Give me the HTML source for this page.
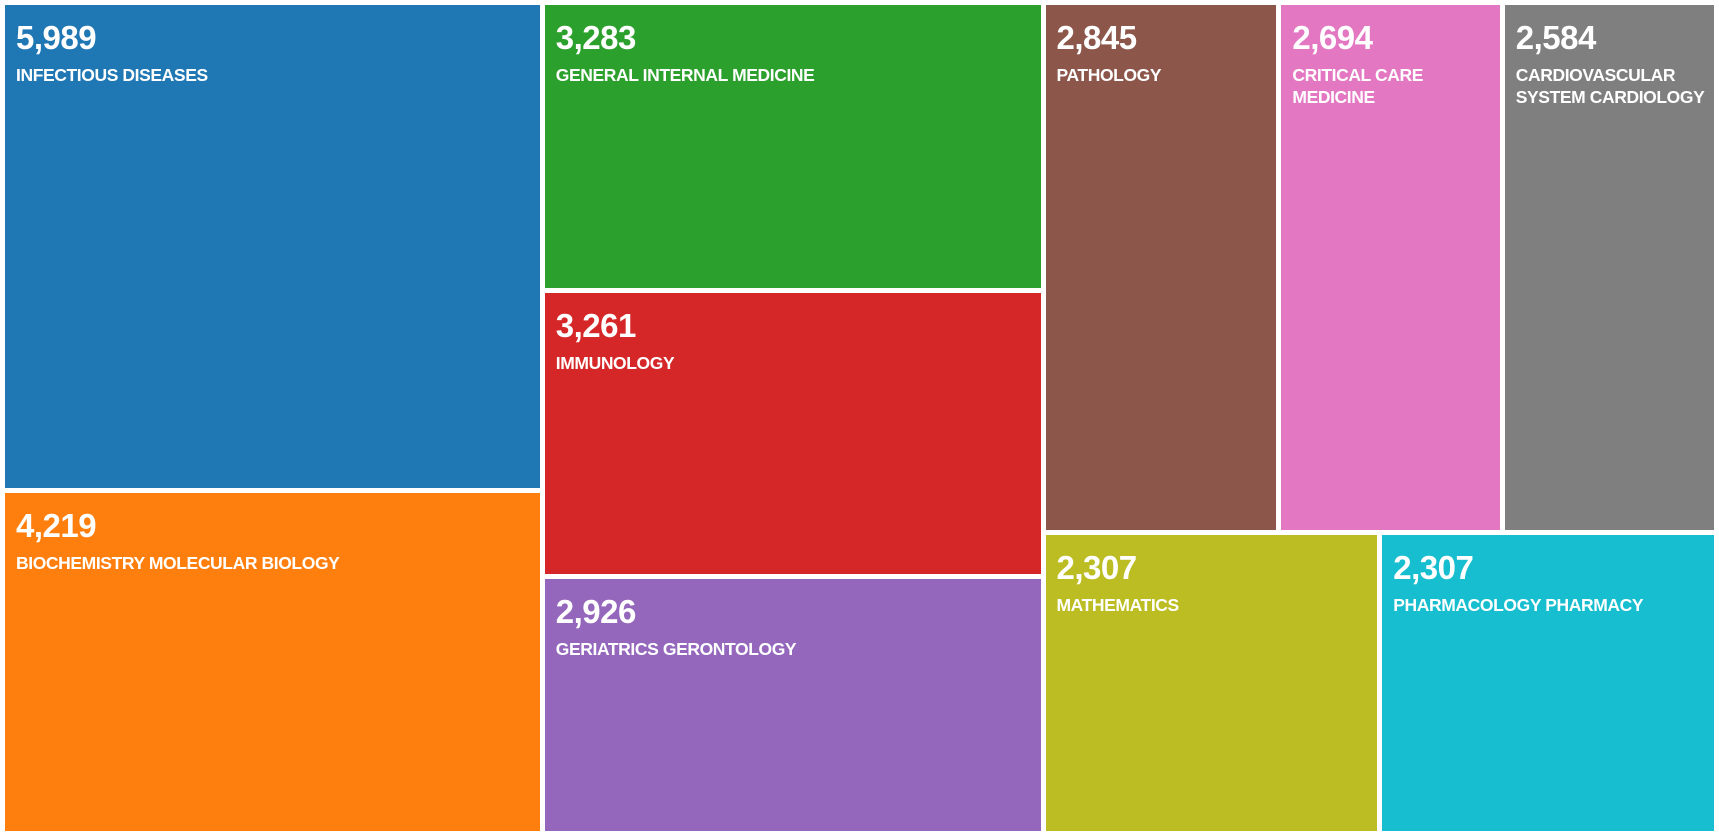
<!DOCTYPE html>
<html><head><meta charset="utf-8"><style>
body{margin:0;background:#fff;width:1719px;height:837px;overflow:hidden;font-family:"Liberation Sans",sans-serif}
#chart{position:relative;width:1719px;height:837px}
.cell{position:absolute;box-sizing:border-box;padding:14px 8px 0 11px;color:#fff;overflow:hidden}
.num{font-weight:bold;font-size:33px;line-height:38px;letter-spacing:-0.5px}
.lab{font-weight:bold;font-size:17.5px;line-height:22px;margin-top:7px;letter-spacing:-0.4px}
</style></head><body>
<div id="chart"></div>
<script>
const categories=["INFECTIOUS DISEASES","BIOCHEMISTRY MOLECULAR BIOLOGY","GENERAL INTERNAL MEDICINE","IMMUNOLOGY","GERIATRICS GERONTOLOGY","PATHOLOGY","CRITICAL CARE MEDICINE","CARDIOVASCULAR SYSTEM CARDIOLOGY","MATHEMATICS","PHARMACOLOGY PHARMACY"];
const values=[5989,4219,3283,3261,2926,2845,2694,2584,2307,2307];
const colors=["#1f77b4","#ff7f0e","#2ca02c","#d62728","#9467bd","#8c564b","#e377c2","#7f7f7f","#bcbd22","#17becf"];
// layout groups: columns, third column split into two rows
const groups=[[0,1],[2,3,4],[[5,6,7],[8,9]]];
const X0=2.5,Y0=2.5,X1=1716.5,Y1=833.5,PAD=2.5;
const sum=a=>a.reduce((s,i)=>s+(Array.isArray(i)?sum(i):values[i]),0);
const chart=document.getElementById('chart');
function cell(i,x0,y0,x1,y1){
  const d=document.createElement('div');
  d.className='cell';
  
  
  d.style.left=(x0+PAD)+'px';d.style.top=(y0+PAD)+'px';
  d.style.width=(x1-x0-2*PAD)+'px';d.style.height=(y1-y0-2*PAD)+'px';
  d.style.background=colors[i];
  const n=document.createElement('div');n.className='num';
  
  
  n.textContent=values[i].toLocaleString('en-US');
  const l=document.createElement('div');l.className='lab';
  
  
  l.textContent=categories[i];
  d.appendChild(n);d.appendChild(l);chart.appendChild(d);
}
// horizontal slicing of columns
const total=sum(groups);let x=X0;
groups.forEach(g=>{
  const w=(X1-X0)*sum(g)/total;const gs=sum(g);let y=Y0;
  g.forEach(item=>{
    const h=(Y1-Y0)*sum([item])/gs;
    if(Array.isArray(item)){
      const rs=sum(item);let xx=x;
      item.forEach(i=>{const ww=w*values[i]/rs;cell(i,xx,y,xx+ww,y+h);xx+=ww;});
    } else cell(item,x,y,x+w,y+h);
    y+=h;
  });
  x+=w;
});
</script>
</body></html>
